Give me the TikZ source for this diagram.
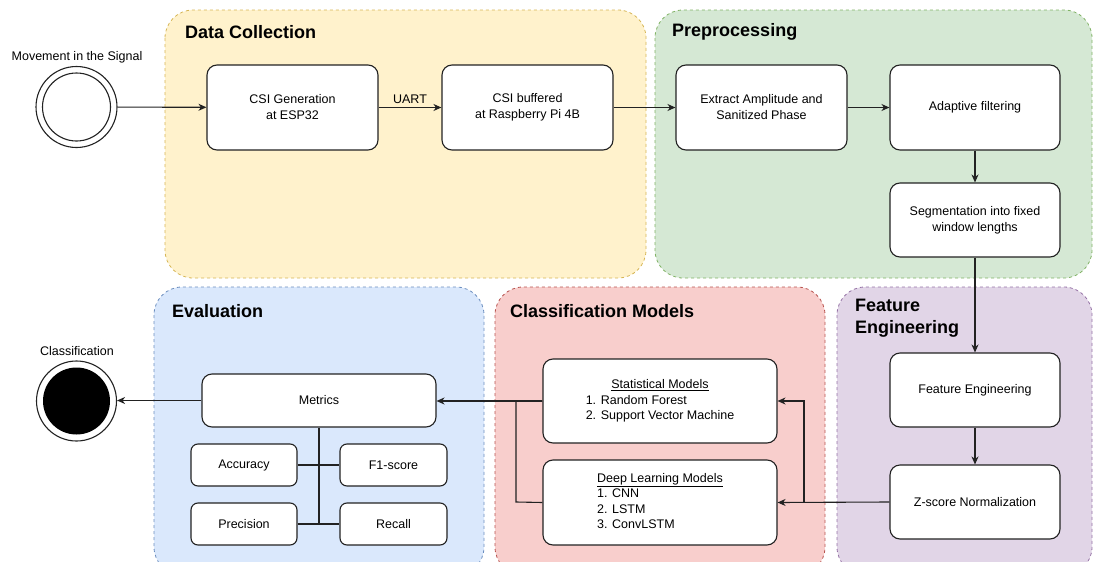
\documentclass[tikz,border=0pt]{standalone}
\usepackage{fontspec}
\setmainfont{Liberation Sans}
\usetikzlibrary{arrows.meta,calc}
\definecolor{yfill}{HTML}{FFF2CC}\definecolor{ydraw}{HTML}{D6B656}
\definecolor{gfill}{HTML}{D5E8D4}\definecolor{gdraw}{HTML}{82B366}
\definecolor{bfill}{HTML}{DAE8FC}\definecolor{bdraw}{HTML}{6C8EBF}
\definecolor{rfill}{HTML}{F8CECC}\definecolor{rdraw}{HTML}{B85450}
\definecolor{pfill}{HTML}{E1D5E7}\definecolor{pdraw}{HTML}{9673A6}
\definecolor{ink}{HTML}{222222}
\tikzset{
  grp/.style={line width=0.8pt, dash pattern=on 3pt off 3pt, rounded corners=28pt},
  grptitle/.style={anchor=west, inner sep=0pt, align=left, font=\fontsize{18}{22}\selectfont\bfseries},
  box/.style={draw=ink, fill=white, line width=1.1pt, rounded corners=10pt, align=center,
    inner sep=2pt, font=\fontsize{12.5}{16}\selectfont},
  bigbox/.style={box, minimum width=171pt, minimum height=85pt},
  midbox/.style={box, minimum width=170pt, minimum height=74pt},
  modbox/.style={box, minimum width=234pt, minimum height=84pt, font=\fontsize{12.5}{15.5}\selectfont},
  smallbox/.style={box, minimum width=106pt, minimum height=42pt, rounded corners=7pt},
  lbl/.style={inner sep=0pt, font=\fontsize{12.5}{15}\selectfont},
  conn/.style={draw=ink, line width=1.1pt},
  arr/.style={conn, -{Stealth[length=8pt,width=7pt,inset=2.5pt]}},
  ring/.style={circle, draw=ink, line width=1.1pt, inner sep=0pt}
}
\begin{document}
\begin{tikzpicture}[x=1pt,y=-1pt]
\useasboundingbox (0,0) rectangle (1093,562);
% groups
\draw[grp, fill=yfill, draw=ydraw] (165,10) rectangle (646,278);
\draw[grp, fill=gfill, draw=gdraw] (655,10) rectangle (1092,278);
\draw[grp, fill=bfill, draw=bdraw] (154,287) rectangle (484,575);
\draw[grp, fill=rfill, draw=rdraw] (495,287) rectangle (825,575);
\draw[grp, fill=pfill, draw=pdraw] (837,287) rectangle (1092,575);
\node[grptitle] (tdc) at (185,32) {Data Collection};
\node[grptitle] (tpp) at (672,32) {Preprocessing};
\node[grptitle] (tev) at (172,311) {Evaluation};
\node[grptitle] (tcm) at (510,311) {Classification Models};
\node[grptitle] (tfe) at (855,318) {Feature\\Engineering};
% start / end
\node[ring, fill=white, minimum size=81pt] (start) at (76.5,107) {};
\node[ring, minimum size=68pt] (startin) at (76.5,107) {};
\node[lbl] (startlbl) at (77,57) {Movement in the Signal};
\node[ring, fill=white, minimum size=80pt] (end) at (76.5,401) {};
\node[circle, fill=black, inner sep=0pt, minimum size=67pt] (endin) at (76.5,401) {};
\node[lbl] (endlbl) at (77,351) {Classification};
% boxes
\node[bigbox] (csigen) at (292.5,107.5) {CSI Generation\\at ESP32};
\node[bigbox] (csibuf) at (527.5,107.5) {CSI buffered\\at Raspberry Pi 4B};
\node[bigbox] (extract) at (761.5,107.5) {Extract Amplitude and\\Sanitized Phase};
\node[bigbox, minimum width=170pt] (adapt) at (975,107.5) {Adaptive filtering};
\node[midbox] (segm) at (975,220) {Segmentation into fixed\\window lengths};
\node[midbox] (feat) at (975,390) {Feature Engineering};
\node[midbox] (zscore) at (975,502) {Z-score Normalization};
\node[modbox] (stat) at (660,401) {\begin{tabular}{@{}l@{}}\multicolumn{1}{@{}c@{}}{\underline{Statistical Models}}\\1. Random Forest\\2. Support Vector Machine\end{tabular}};
\node[modbox, minimum height=85pt] (deep) at (660,502.5) {\begin{tabular}{@{}l@{}}\multicolumn{1}{@{}c@{}}{\underline{Deep Learning Models}}\\1. CNN\\2. LSTM\\3. ConvLSTM\end{tabular}};
\node[box, minimum width=234pt, minimum height=53pt] (metrics) at (319,400.5) {Metrics};
\node[smallbox] (acc) at (244,465) {Accuracy};
\node[smallbox, minimum width=107pt] (f1) at (393.5,465) {F1-score};
\node[smallbox] (prec) at (244,524) {Precision};
\node[smallbox, minimum width=107pt] (recall) at (393.5,524) {Recall};
% connectors
\draw[arr] (start) -- (csigen);
\draw[arr] (csigen) -- node[lbl, above=3pt] (uart) {UART} (csibuf);
\draw[arr] (csibuf) -- (extract);
\draw[arr] (extract) -- (adapt);
\draw[arr] (adapt) -- (segm);
\draw[arr] (segm) -- (feat);
\draw[arr] (feat) -- (zscore);
\coordinate (jr) at (804,502);
\coordinate (jl) at (516,502);
\draw[arr] (zscore.west) -- (deep.east);
\draw[arr] (jr) |- (stat.east);
\draw[arr] (stat.west) -- (metrics.east |- stat.west);
\draw[conn] (deep.west) -- (jl) |- (stat.west);
\draw[arr] (metrics.west) -- (end.east |- metrics.west);
\coordinate (mbot) at (metrics.south |- recall.west);
\draw[conn] (metrics.south) -- (mbot);
\draw[conn] (acc.east) -- (f1.west);
\draw[conn] (prec.east) -- (recall.west);
\end{tikzpicture}
\end{document}
